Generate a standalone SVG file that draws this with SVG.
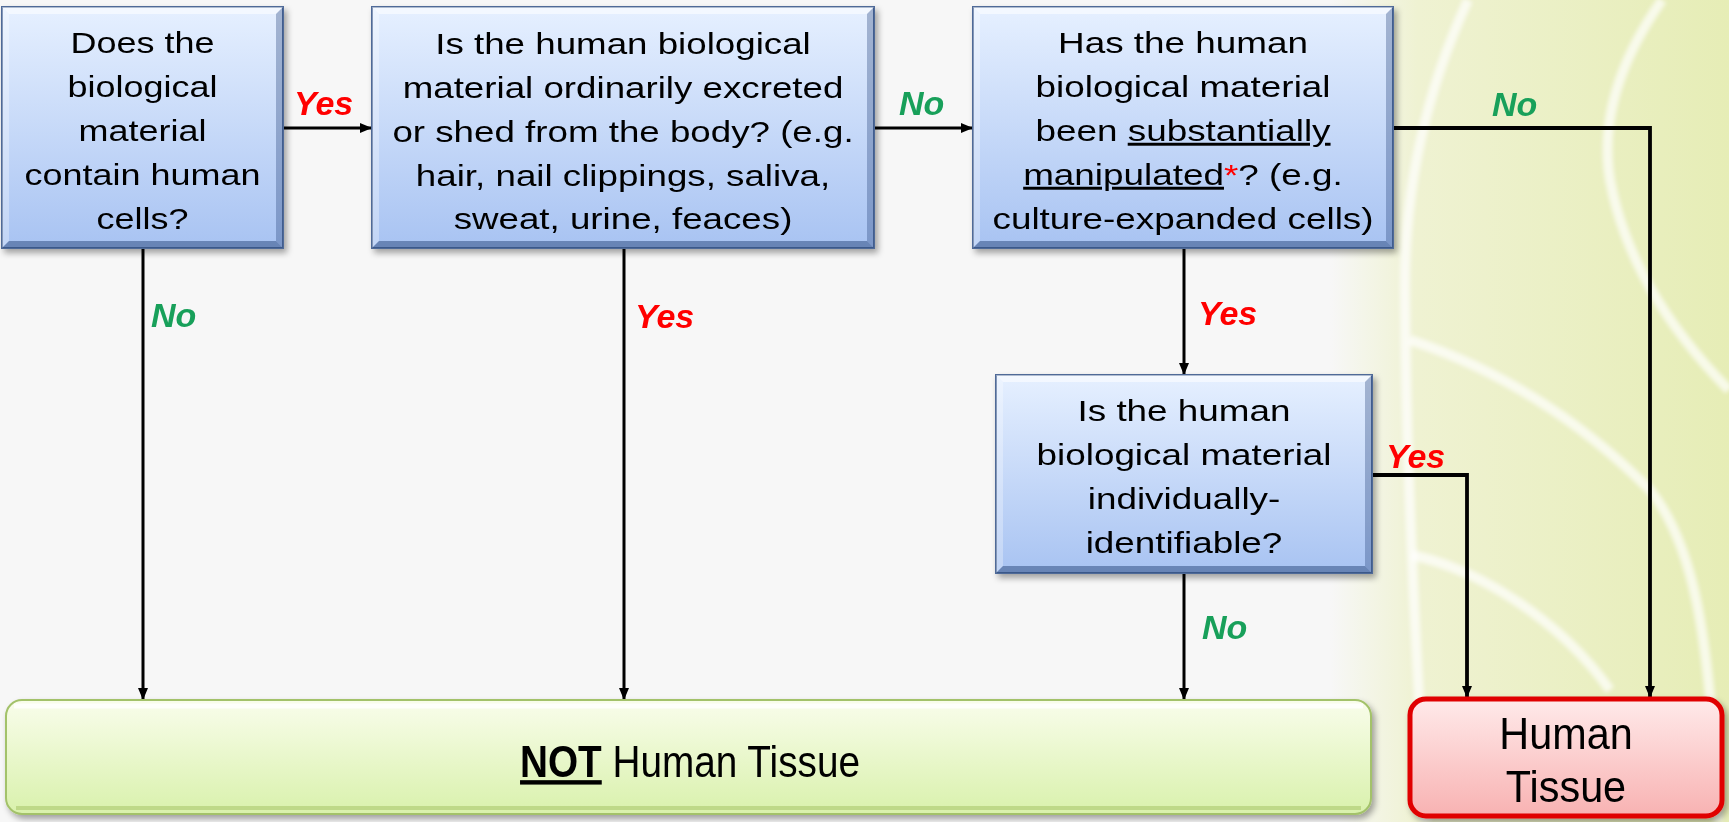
<svg xmlns="http://www.w3.org/2000/svg" width="1729" height="822" viewBox="0 0 1729 822">
<defs>
<linearGradient id="blue" x1="0" y1="0" x2="0" y2="1">
<stop offset="0" stop-color="#E6F0FF"/>
<stop offset="1" stop-color="#A8C3F2"/>
</linearGradient>
<linearGradient id="green" x1="0" y1="0" x2="0" y2="1">
<stop offset="0" stop-color="#F9FDEB"/>
<stop offset="1" stop-color="#D9F1AC"/>
</linearGradient>
<linearGradient id="red" x1="0" y1="0" x2="0" y2="1">
<stop offset="0" stop-color="#FFEAEA"/>
<stop offset="1" stop-color="#F8B2B2"/>
</linearGradient>
<linearGradient id="bgdeco" x1="1330" y1="0" x2="1729" y2="0" gradientUnits="userSpaceOnUse">
<stop offset="0" stop-color="#F7F7F7"/>
<stop offset="0.22" stop-color="#EFF2D2"/>
<stop offset="1" stop-color="#E6EDB6"/>
</linearGradient>
<filter id="shadow" x="-10%" y="-10%" width="120%" height="130%">
<feDropShadow dx="3" dy="4" stdDeviation="3" flood-color="#000" flood-opacity="0.35"/>
</filter>
<filter id="soft" x="-5%" y="-5%" width="110%" height="110%">
<feGaussianBlur stdDeviation="2"/>
</filter>
<marker id="arr" viewBox="0 0 12 10" refX="12" refY="5" markerWidth="12" markerHeight="10" markerUnits="userSpaceOnUse" orient="auto">
<path d="M0,0 L12,5 L0,10 Z" fill="#000"/>
</marker>
<style>
.q{font-family:"Liberation Sans",Arial,sans-serif;font-size:29.5px;fill:#000;text-anchor:middle}
.big{font-family:"Liberation Sans",Arial,sans-serif;font-size:44px;fill:#000;text-anchor:middle}
.yes{font-family:"Liberation Sans",Arial,sans-serif;font-size:34px;font-weight:bold;font-style:italic;fill:#FF0000}
.no{font-family:"Liberation Sans",Arial,sans-serif;font-size:34px;font-weight:bold;font-style:italic;fill:#18A05A}
.box{fill:url(#blue);stroke:#4F6B98;stroke-width:2}
.hl{fill:#FFFFFF;opacity:0.55}
.hl2{fill:#FFFFFF;opacity:0.3}
.dk{fill:#27457A;opacity:0.35}
.dk2{fill:#27457A;opacity:0.5}
.conn{fill:none;stroke:#000;stroke-width:3}
.thick{stroke-width:3.8}
.stripe{fill:none;stroke:#FFFFFF;stroke-width:10;opacity:0.7}
.u{text-decoration:underline}
</style>
</defs>

<rect x="0" y="0" width="1729" height="822" fill="#F7F7F7"/>
<g id="background-decoration">
<path d="M1330,0 C1320,250 1320,560 1340,822 L1729,822 L1729,0 Z" fill="url(#bgdeco)"/>
<g filter="url(#soft)">
<path class="stripe" d="M1468,0 C1422,100 1403,200 1405,300 C1406,450 1413,600 1426,822"/>
<path class="stripe" d="M1662,0 C1620,60 1600,120 1610,180 C1625,260 1670,330 1729,390"/>
<path class="stripe" d="M1410,340 C1500,370 1580,420 1650,490 C1690,540 1710,620 1718,822"/>
<path class="stripe" d="M1412,555 C1480,570 1560,620 1610,690"/>
</g>
</g>

<g id="connectors">
<path class="conn" d="M283,128 H372" marker-end="url(#arr)"/>
<path class="conn" d="M874,128 H973" marker-end="url(#arr)"/>
<path class="conn thick" d="M1393,128 H1650 V698" marker-end="url(#arr)"/>
<path class="conn" d="M143,248 V700" marker-end="url(#arr)"/>
<path class="conn" d="M624,248 V700" marker-end="url(#arr)"/>
<path class="conn" d="M1184,248 V375" marker-end="url(#arr)"/>
<path class="conn thick" d="M1372,475 H1467 V698" marker-end="url(#arr)"/>
<path class="conn" d="M1184,573 V700" marker-end="url(#arr)"/>
<text class="yes" x="294" y="115">Yes</text>
<text class="no" x="899" y="115">No</text>
<text class="no" x="1492" y="116">No</text>
<text class="no" x="151" y="327">No</text>
<text class="yes" x="635" y="328">Yes</text>
<text class="yes" x="1198" y="325">Yes</text>
<text class="yes" x="1386" y="468">Yes</text>
<text class="no" x="1202" y="639">No</text>
</g>

<g id="node-contains-cells">
<rect class="box" x="2" y="7" width="281" height="241" filter="url(#shadow)"/>
<polygon class="hl" points="2,7 283,7 276,14 9,14"/>
<polygon class="hl2" points="2,7 9,14 9,241 2,248"/>
<polygon class="dk" points="283,7 283,248 276,241 276,14"/>
<polygon class="dk2" points="2,248 283,248 276,241 9,241"/>
<g transform="translate(142.5,0) scale(1.22,1)">
<text class="q" x="0" y="53">Does the</text>
<text class="q" x="0" y="97">biological</text>
<text class="q" x="0" y="141">material</text>
<text class="q" x="0" y="185">contain human</text>
<text class="q" x="0" y="229">cells?</text>
</g>
</g>

<g id="node-excreted">
<rect class="box" x="372" y="7" width="502" height="241" filter="url(#shadow)"/>
<polygon class="hl" points="372,7 874,7 867,14 379,14"/>
<polygon class="hl2" points="372,7 379,14 379,241 372,248"/>
<polygon class="dk" points="874,7 874,248 867,241 867,14"/>
<polygon class="dk2" points="372,248 874,248 867,241 379,241"/>
<g transform="translate(623,0) scale(1.245,1)">
<text class="q" x="0" y="54">Is the human biological</text>
<text class="q" x="0" y="98">material ordinarily excreted</text>
<text class="q" x="0" y="142">or shed from the body? (e.g.</text>
<text class="q" x="0" y="186">hair, nail clippings, saliva,</text>
<text class="q" x="0" y="229">sweat, urine, feaces)</text>
</g>
</g>

<g id="node-manipulated">
<rect class="box" x="973" y="7" width="420" height="241" filter="url(#shadow)"/>
<polygon class="hl" points="973,7 1393,7 1386,14 980,14"/>
<polygon class="hl2" points="973,7 980,14 980,241 973,248"/>
<polygon class="dk" points="1393,7 1393,248 1386,241 1386,14"/>
<polygon class="dk2" points="973,248 1393,248 1386,241 980,241"/>
<g transform="translate(1183,0) scale(1.25,1)">
<text class="q" x="0" y="53">Has the human</text>
<text class="q" x="0" y="97">biological material</text>
<text class="q" x="0" y="141">been <tspan class="u">substantially</tspan></text>
<text class="q" x="0" y="185"><tspan class="u">manipulated</tspan><tspan fill="#FF0000">*</tspan>? (e.g.</text>
<text class="q" x="0" y="229">culture-expanded cells)</text>
</g>
</g>

<g id="node-identifiable">
<rect class="box" x="996" y="375" width="376" height="198" filter="url(#shadow)"/>
<polygon class="hl" points="996,375 1372,375 1365,382 1003,382"/>
<polygon class="hl2" points="996,375 1003,382 1003,566 996,573"/>
<polygon class="dk" points="1372,375 1372,573 1365,566 1365,382"/>
<polygon class="dk2" points="996,573 1372,573 1365,566 1003,566"/>
<g transform="translate(1184,0) scale(1.25,1)">
<text class="q" x="0" y="421">Is the human</text>
<text class="q" x="0" y="465">biological material</text>
<text class="q" x="0" y="509">individually-</text>
<text class="q" x="0" y="553">identifiable?</text>
</g>
</g>

<g id="node-not-human-tissue">
<rect x="6" y="700" width="1365" height="114" rx="16" fill="url(#green)" stroke="#A3C26A" stroke-width="2" filter="url(#shadow)"/>
<path d="M14,706 H1363" stroke="#FFFFFF" stroke-width="5" opacity="0.8" fill="none"/>
<path d="M16,808 H1361" stroke="#B7D27E" stroke-width="4" opacity="0.8" fill="none"/>
<g transform="translate(690,0) scale(0.88,1)">
<text class="big" x="0" y="777"><tspan class="u" font-weight="bold">NOT</tspan> Human Tissue</text>
</g>
</g>

<g id="node-human-tissue">
<rect x="1410" y="699" width="312" height="117" rx="16" fill="url(#red)" stroke="#E00000" stroke-width="5" filter="url(#shadow)"/>
<g transform="translate(1566,0) scale(0.94,1)">
<text class="big" x="0" y="749">Human</text>
<text class="big" x="0" y="802">Tissue</text>
</g>
</g>
</svg>
